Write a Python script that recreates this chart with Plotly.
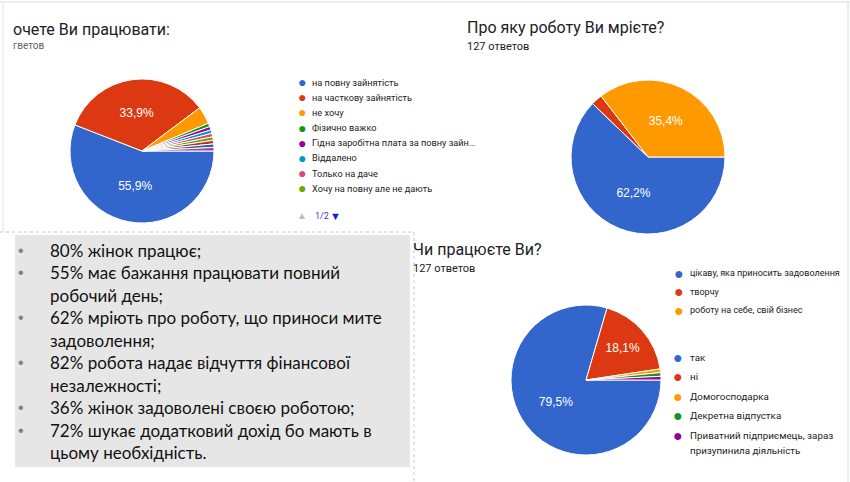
import plotly.graph_objects as go

W, H = 850, 482

# ---------------- data ----------------
work_labels = ["на повну зайнятість", "на часткову зайнятість", "не хочу", "Фізично важко",
               "Гідна заробітна плата за повну зайн…", "Віддалено", "Только на даче",
               "Хочу на повну але не дають", "Інше 1", "Інше 2", "Інше 3"]
work_values = [71, 43, 5, 1, 1, 1, 1, 1, 1, 1, 1]

dream_labels = ["цікаву, яка приносить задоволення", "творчу", "роботу на себе, свій бізнес"]
dream_values = [79, 3, 45]

job_labels = ["так", "ні", "Домогосподарка", "Декретна відпустка",
              "Приватний підприємець, зараз призупинила діяльність"]
job_legend_lines = [["так"], ["ні"], ["Домогосподарка"], ["Декретна відпустка"],
                    ["Приватний підприємець, зараз", "призупинила діяльність"]]
job_values = [101, 23, 1, 1, 1]

palette = ["#3366CC", "#DC3912", "#FF9900", "#109618", "#990099", "#0099C6",
           "#DD4477", "#66AA00", "#B82E2E", "#316395", "#994499"]

summary_items = [
    ["80% жінок працює;"],
    ["55% має бажання працювати повний", "робочий день;"],
    ["62% мріють про роботу, що приноси мите", "задоволення;"],
    ["82% робота надає відчуття фінансової", "незалежності;"],
    ["36% жінок задоволені своєю роботою;"],
    ["72% шукає додатковий дохід бо мають в", "цьому необхідність."],
]

# ---------------- helpers ----------------
def px(x):
    return x / W

def py(y):
    return 1 - y / H

def dom(cx, cy, d):
    return dict(x=[px(cx - d / 2), px(cx + d / 2)], y=[py(cy + d / 2), py(cy - d / 2)])

def tmpl(n, shown):
    return ["%{percent:.1%}" if i < shown else "" for i in range(n)]

GF = "Roboto, Arial, sans-serif"
LF = "Roboto, Arial, sans-serif"

fig = go.Figure()

pie_common = dict(sort=False, direction="clockwise", rotation=90, showlegend=False,
                  textposition="inside", insidetextorientation="horizontal",
                  textfont=dict(color="white", size=12, family="Arial, sans-serif"),
                  marker_line=dict(color="white", width=1), hoverinfo="label+percent")

fig.add_trace(go.Pie(labels=work_labels, values=work_values, domain=dom(142, 151, 144),
                     marker_colors=palette[:len(work_values)],
                     texttemplate=tmpl(len(work_values), 2), **pie_common))
fig.add_trace(go.Pie(labels=dream_labels, values=dream_values, domain=dom(648, 157, 154),
                     marker_colors=[palette[0], palette[1], palette[2]],
                     texttemplate=["%{percent:.1%}", "", "%{percent:.1%}"], **pie_common))
fig.add_trace(go.Pie(labels=job_labels, values=job_values, domain=dom(586, 380, 150),
                     marker_colors=palette[:len(job_values)],
                     texttemplate=tmpl(len(job_values), 2), **pie_common))

shapes = []
ann = []

# card borders
shapes.append(dict(type="line", xref="paper", yref="paper", x0=0, x1=1, y0=py(2), y1=py(2),
                   line=dict(color="#dadce0", width=1)))
shapes.append(dict(type="line", xref="paper", yref="paper", x0=px(3), x1=px(3), y0=py(2), y1=py(232),
                   line=dict(color="#e3e3e3", width=1)))
shapes.append(dict(type="line", xref="paper", yref="paper", x0=px(848), x1=px(848), y0=py(2), y1=0,
                   line=dict(color="#dadce0", width=1)))

# text box
shapes.append(dict(type="rect", xref="paper", yref="paper", x0=px(15), x1=px(410), y0=py(467), y1=py(235),
                   fillcolor="#E7E6E6", line=dict(width=0), layer="below"))
shapes.append(dict(type="line", xref="paper", yref="paper", x0=0, x1=px(414), y0=py(232), y1=py(232),
                   line=dict(color="#c8c8c8", width=1, dash="dot")))
shapes.append(dict(type="line", xref="paper", yref="paper", x0=px(414), x1=px(414), y0=py(232), y1=0,
                   line=dict(color="#c8c8c8", width=1, dash="dot")))

def text(x, y, s, size, color="#202124", family=GF, xanchor="left"):
    ann.append(dict(x=px(x), y=py(y), xref="paper", yref="paper", text=s, showarrow=False,
                    xanchor=xanchor, yanchor="middle", align="left",
                    font=dict(size=size, color=color, family=family)))

# titles
text(11, 29, "очете Ви працювати:", 16)
text(11, 45, "гветов", 10, "#5f6368")
text(465, 27, "Про яку роботу Ви мрієте?", 16)
text(465, 46, "127 ответов", 11)
text(411, 249, "Чи працюєте Ви?", 16)
text(411, 268, "127 ответов", 11)

# legends
def legend(x_dot, x_txt, y0, step, items, colors, size, dot, wrap_step=None):
    y = y0
    for lines, c in zip(items, colors):
        text(x_dot, y, "●", dot, c, "Arial", xanchor="center")
        yy = y
        for ln in lines:
            text(x_txt, yy, ln, size, "#222222", LF)
            yy += wrap_step or step
        y += step + (len(lines) - 1) * (wrap_step or step)

legend(302, 310, 82, 15.2, [[l] for l in work_labels[:8]], palette[:8], 9.2, 14)
legend(679, 688, 273, 18.6, [[l] for l in dream_labels], palette[:3], 9, 16)
legend(678, 688, 357, 19.6, job_legend_lines, palette[:5], 9.8, 16, wrap_step=15)

# pager
text(302, 216, "▲", 10, "#bdbdbd", "Arial", xanchor="center")
text(313, 216, "1/2", 9, "#3b3bd1", LF)
text(335, 216, "▼", 11, "#1a1ad1", "Arial", xanchor="center")

# summary text
line_y = 250
for item in summary_items:
    text(21, line_y, "•", 16, "#7f7f7f", "Arial", xanchor="center")
    for ln in item:
        text(48, line_y, ln, 17, "#111111", "Lato, 'Open Sans', sans-serif")
        line_y += 22.5

fig.update_layout(width=W, height=H, margin=dict(l=0, r=0, t=0, b=0),
                  paper_bgcolor="white", plot_bgcolor="white",
                  separators=", ", shapes=shapes, annotations=ann)

fig.write_html("out.html")
